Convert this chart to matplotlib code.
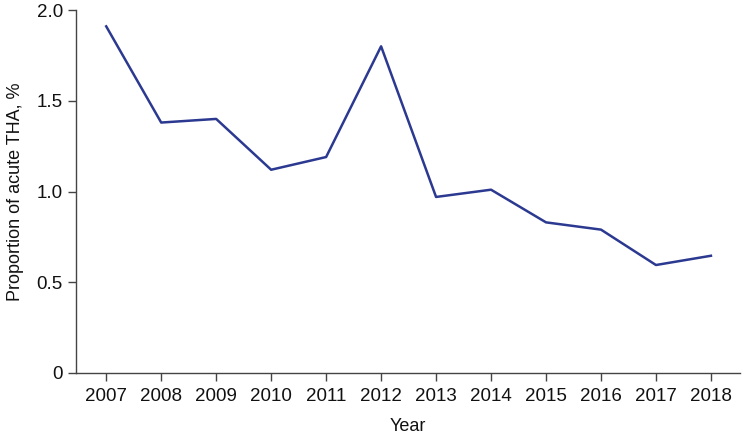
import matplotlib.pyplot as plt

years = [2007, 2008, 2009, 2010, 2011, 2012, 2013, 2014, 2015, 2016, 2017, 2018]
proportion = [1.91, 1.38, 1.40, 1.12, 1.19, 1.80, 0.97, 1.01, 0.83, 0.79, 0.595, 0.646]
yticks = [0, 0.5, 1.0, 1.5, 2.0]
ytick_labels = ["0", "0.5", "1.0", "1.5", "2.0"]

plt.rcParams['font.family'] = ['Liberation Sans', 'DejaVu Sans']

fig = plt.figure(figsize=(7.42, 4.36), dpi=100)
ax = fig.add_axes([0.1024, 0.1445, 0.895, 0.8325])

ax.plot(years, proportion, color='#2b3990', linewidth=1.8)

ax.set_xlim(2006.45, 2018.53)
ax.set_ylim(0, 2.0)
ax.set_xticks(years)
ax.set_xticklabels([str(y) for y in years])
ax.set_yticks(yticks)
ax.set_yticklabels(ytick_labels)

for side in ['top', 'right']:
    ax.spines[side].set_visible(False)
for side in ['left', 'bottom']:
    ax.spines[side].set_color('#444444')
    ax.spines[side].set_linewidth(1.0)

ax.tick_params(axis='both', labelsize=13.5, length=6, width=1.0, colors='#111111')
ax.tick_params(axis='both', color='#444444')
ax.tick_params(axis='x', pad=5)

ax.set_xlabel("Year", fontsize=13, color='#111111', labelpad=9)
ax.set_ylabel("Proportion of acute THA, %", fontsize=13, color='#111111', labelpad=9)

fig.savefig("out.png", dpi=100)
